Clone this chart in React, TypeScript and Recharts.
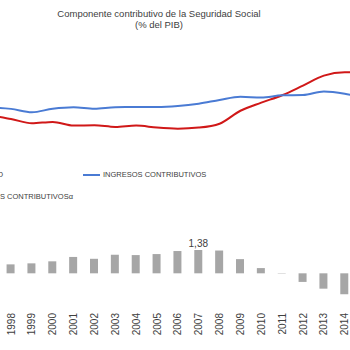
import { ComposedChart, Bar, Line, XAxis, YAxis, Legend, LabelList } from "recharts"

const ANIOS = ["1995", "1996", "1997", "1998", "1999", "2000", "2001", "2002", "2003", "2004", "2005", "2006", "2007", "2008", "2009", "2010", "2011", "2012", "2013", "2014", "2015"]
const INGRESOS = [9.4, 9.42, 9.45, 9.38, 9.18, 9.39, 9.48, 9.39, 9.48, 9.49, 9.49, 9.55, 9.69, 9.91, 10.1, 10.05, 10.18, 10.2, 10.41, 10.28, 10.0]
const GASTOS = [8.99, 8.98, 8.96, 8.78, 8.53, 8.61, 8.39, 8.41, 8.31, 8.39, 8.27, 8.21, 8.27, 8.5, 9.27, 9.75, 10.19, 10.76, 11.35, 11.55, 11.5]
const SALDO = [0.41, 0.44, 0.49, 0.53, 0.59, 0.71, 0.97, 0.86, 1.1, 1.08, 1.14, 1.32, 1.38, 1.35, 0.84, 0.31, -0.02, -0.51, -0.91, -1.24, -1.5]
const ETIQUETA_ANIO = "2007"

const data = ANIOS.map((anio, i) => ({
  anio,
  ingresos: INGRESOS[i],
  gastos: GASTOS[i],
  saldo: SALDO[i],
  etiqueta: anio === ETIQUETA_ANIO ? SALDO[i] : undefined,
}))

// the picture is a crop of a wider chart, so the chart is shifted left
const SHIFT = -62
const W = 438
const H = 350

const ROJO = "#d01818"
const AZUL = "#4a7bd4"
const GRIS = "#a6a6a6"
const TEXTO = "#404040"
const FONT = "'Liberation Sans', Arial, sans-serif"

function YearTick({ x, payload }: any) {
  const y = 313
  return (
    <text
      x={x}
      y={y}
      transform={`rotate(-90, ${x}, ${y})`}
      textAnchor="end"
      dominantBaseline="central"
      fontSize={10}
      fill={TEXTO}
      fontFamily={FONT}
    >
      {payload.value}
    </text>
  )
}

const legendText = { fontSize: 7.5, color: TEXTO, fontFamily: FONT, whiteSpace: "nowrap" as const }

// height 0 so the legend does not take room from the plot
function LegendBox() {
  const vx = (v: number) => v - SHIFT // viewport x to chart x
  return (
    <div style={{ position: "relative", width: W, height: 0 }}>
      <div style={{ position: "absolute", right: W - vx(3), top: 10, display: "flex", alignItems: "center", gap: 3 }}>
        <span style={{ width: 17, height: 2, background: ROJO }} />
        <span style={legendText}>GASTO CONTRIBUTIVO</span>
      </div>
      <div style={{ position: "absolute", left: vx(83), top: 10, display: "flex", alignItems: "center", gap: 3 }}>
        <span style={{ width: 17, height: 2, background: AZUL }} />
        <span style={legendText}>INGRESOS CONTRIBUTIVOS</span>
      </div>
      <div style={{ position: "absolute", right: W - vx(73), top: 32, display: "flex", alignItems: "center", gap: 3 }}>
        <span style={{ width: 6, height: 6, background: GRIS }} />
        <span style={legendText}>SALDO INGRESOS-GASTOS CONTRIBUTIVOSα</span>
      </div>
    </div>
  )
}

export default function App() {
  return (
    <div style={{ position: "absolute", left: 0, top: 0, width: 350, height: 350, overflow: "hidden", background: "#fff" }}>
      <div
        style={{
          position: "absolute",
          left: 0,
          top: 8,
          width: 318,
          textAlign: "center",
          fontFamily: FONT,
          fontSize: 9.5,
          lineHeight: "11px",
          color: TEXTO,
        }}
      >
        Componente contributivo de la Seguridad Social
        <br />
        (% del PIB)
      </div>
      <div style={{ position: "absolute", left: SHIFT, top: 0 }}>
        <ComposedChart width={W} height={H} data={data} margin={{ top: 14, right: 0, bottom: 9, left: 0 }}>
          <XAxis dataKey="anio" axisLine={false} tickLine={false} height={40} interval={0} tick={<YearTick />} />
          <YAxis yAxisId="l" hide domain={[-2, 15]} allowDataOverflow />
          <YAxis yAxisId="b" hide domain={[-1.64, 15.36]} allowDataOverflow />
          <Legend content={<LegendBox />} wrapperStyle={{ top: 160, left: 0, width: W, height: 0 }} />
          <Bar yAxisId="b" dataKey="saldo" fill={GRIS} barSize={8} isAnimationActive={false}>
            <LabelList
              dataKey="etiqueta"
              position="top"
              offset={3}
              formatter={(v: any) => (v == null ? "" : String(v).replace(".", ","))}
              style={{ fill: TEXTO, fontSize: 10, fontFamily: FONT }}
            />
          </Bar>
          <Line yAxisId="l" type="monotone" dataKey="gastos" stroke={ROJO} strokeWidth={2} dot={false} isAnimationActive={false} />
          <Line yAxisId="l" type="monotone" dataKey="ingresos" stroke={AZUL} strokeWidth={2} dot={false} isAnimationActive={false} />
        </ComposedChart>
      </div>
    </div>
  )
}
